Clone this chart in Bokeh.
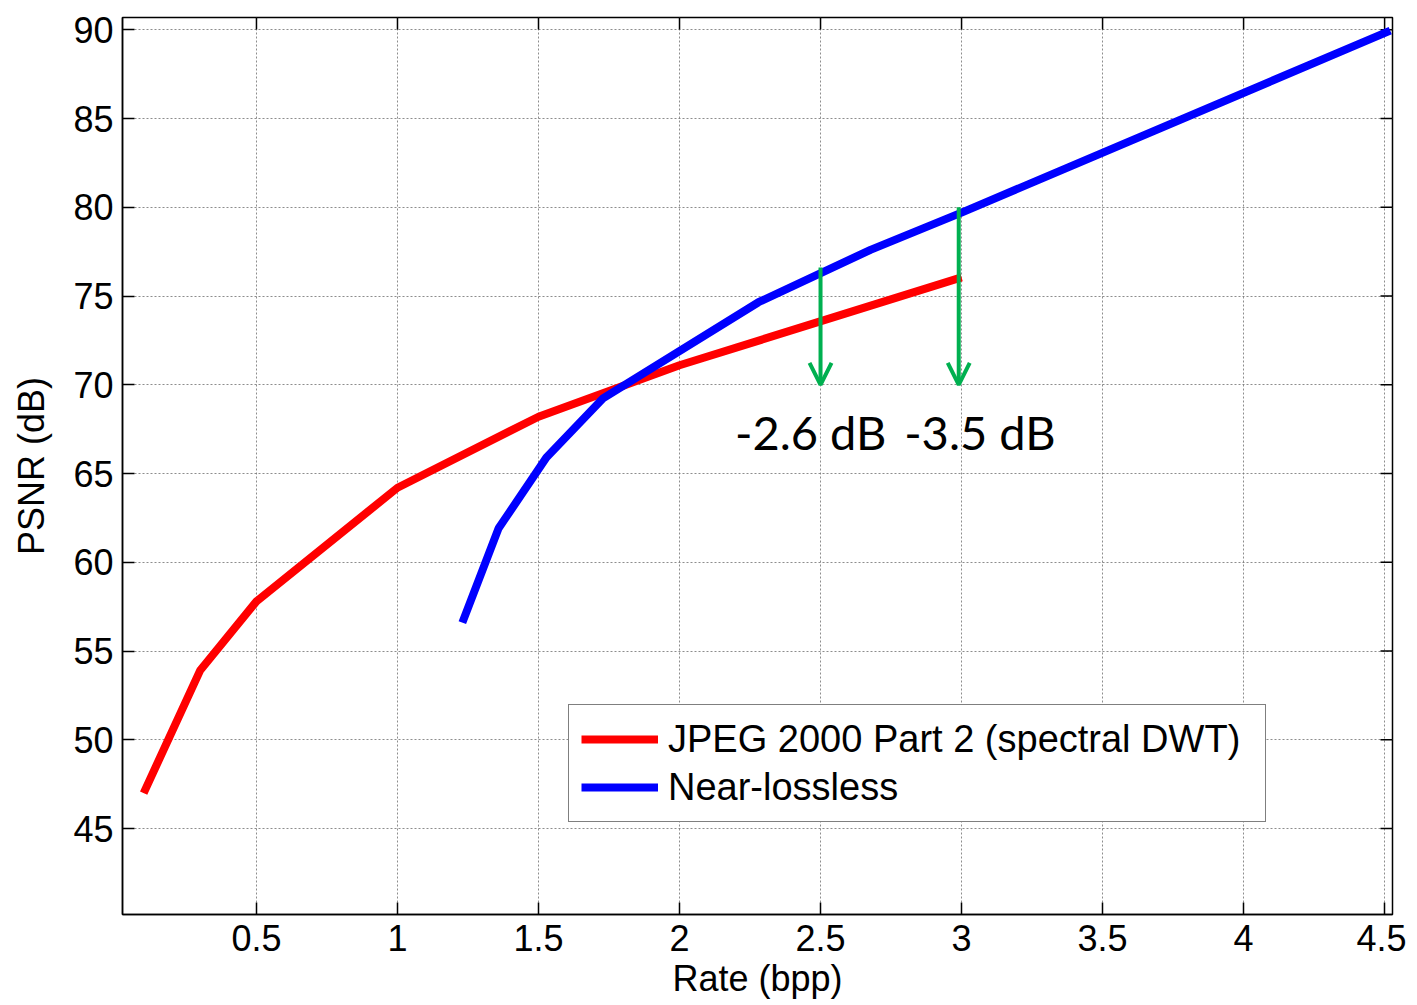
import math
from bokeh.plotting import figure
from bokeh.models import Range1d, Legend, LegendItem, Arrow, OpenHead, FixedTicker, Label
from bokeh.embed import file_html
from bokeh.resources import INLINE

# ---- data ----
jpeg_rate = [0.10, 0.30, 0.50, 1.00, 1.50, 2.00, 3.00]
jpeg_psnr = [47.0, 53.9, 57.8, 64.2, 68.2, 71.1, 76.05]

nl_rate = [1.23, 1.358, 1.528, 1.73, 2.28, 2.677, 3.00, 4.52]
nl_psnr = [56.6, 61.9, 65.9, 69.25, 74.65, 77.6, 79.7, 89.95]

x_ticks = [0.5, 1, 1.5, 2, 2.5, 3, 3.5, 4, 4.5]
y_ticks = [45, 50, 55, 60, 65, 70, 75, 80, 85, 90]

x_lim = (0.025, 4.528)
y_lim = (40.16, 90.69)

arrow_x = [2.5, 2.99]
arrow_top = [76.6, 80.0]
arrow_bottom = [70.0, 70.0]

gain_labels = ["-2.6 dB", "-3.5 dB"]
gain_label_x = [2.465, 3.065]
gain_label_y = [67.35, 67.35]

series_names = ["JPEG 2000 Part 2 (spectral DWT)", "Near-lossless"]

# ---- figure ----
FONT = "Liberation Sans"
p = figure(frame_width=1270, frame_height=897,
           x_range=Range1d(*x_lim), y_range=Range1d(*y_lim),
           output_backend="svg", toolbar_location=None,
           min_border_left=122, min_border_right=14,
           min_border_top=17, min_border_bottom=88)
p.background_fill_color = "white"
p.border_fill_color = "white"
p.outline_line_color = "black"
p.outline_line_width = 1.5

for ax in (p.xaxis[0], p.yaxis[0]):
    ax.major_tick_in = 12
    ax.major_tick_out = 0
    ax.minor_tick_in = 0
    ax.minor_tick_out = 0
    ax.axis_line_color = "black"
    ax.axis_line_width = 1.5
    ax.major_tick_line_color = "black"
    ax.major_tick_line_width = 1.5
    ax.major_label_text_font = FONT
    ax.major_label_text_font_size = "36px"
    ax.major_label_text_color = "black"
    ax.axis_label_text_font = FONT
    ax.axis_label_text_font_size = "36px"
    ax.axis_label_text_font_style = "normal"
    ax.axis_label_text_color = "black"

p.xaxis[0].ticker = FixedTicker(ticks=x_ticks)
p.yaxis[0].ticker = FixedTicker(ticks=y_ticks)
p.xaxis[0].axis_label = "Rate (bpp)"
p.yaxis[0].axis_label = "PSNR (dB)"
p.xaxis[0].major_label_standoff = 10
p.xaxis[0].axis_label_standoff = 4
p.yaxis[0].major_label_standoff = 9
p.yaxis[0].axis_label_standoff = 18

# grid
p.xgrid.ticker = FixedTicker(ticks=x_ticks)
p.ygrid.ticker = FixedTicker(ticks=y_ticks)
for g in (p.xgrid[0], p.ygrid[0]):
    g.grid_line_color = "#707070"
    g.grid_line_dash = "2 2"
    g.grid_line_width = 1
    g.grid_line_alpha = 0.8

# inward ticks on top and right frame edges (MATLAB box style)
p.ray(x=x_ticks, y=[y_lim[1]] * len(x_ticks), length=12, length_units="screen",
      angle=-math.pi / 2, line_color="black", line_width=1.5)
p.ray(x=[x_lim[1]] * len(y_ticks), y=y_ticks, length=12, length_units="screen",
      angle=math.pi, line_color="black", line_width=1.5)

# curves
r1 = p.line(jpeg_rate, jpeg_psnr, line_color="#FF0000", line_width=8)
r2 = p.line(nl_rate, nl_psnr, line_color="#0000FF", line_width=8)

# arrows
GREEN = "#00B050"
for xa, yt, yb in zip(arrow_x, arrow_top, arrow_bottom):
    p.add_layout(Arrow(end=OpenHead(size=22, line_color=GREEN, line_width=4),
                       x_start=xa, y_start=yt, x_end=xa, y_end=yb,
                       line_color=GREEN, line_width=4))

for t, xl, yl in zip(gain_labels, gain_label_x, gain_label_y):
    p.add_layout(Label(x=xl, y=yl, text=t, text_font="Lato", text_font_size="47px",
                       text_color="black", text_align="center",
                       text_baseline="alphabetic"))

legend = Legend(items=[LegendItem(label=series_names[0], renderers=[r1]),
                       LegendItem(label=series_names[1], renderers=[r2])],
                location=(446, 92))
legend.label_text_font = FONT
legend.label_text_font_size = "38px"
legend.label_text_color = "black"
legend.glyph_width = 77
legend.glyph_height = 44
legend.label_height = 44
legend.label_width = 585
legend.label_standoff = 10
legend.padding = 12
legend.spacing = 4
legend.margin = 0
legend.border_line_color = "black"
legend.border_line_width = 1.5
legend.background_fill_color = "white"
legend.background_fill_alpha = 1
p.add_layout(legend, "center")

open("out.html", "w").write(file_html(p, INLINE))
